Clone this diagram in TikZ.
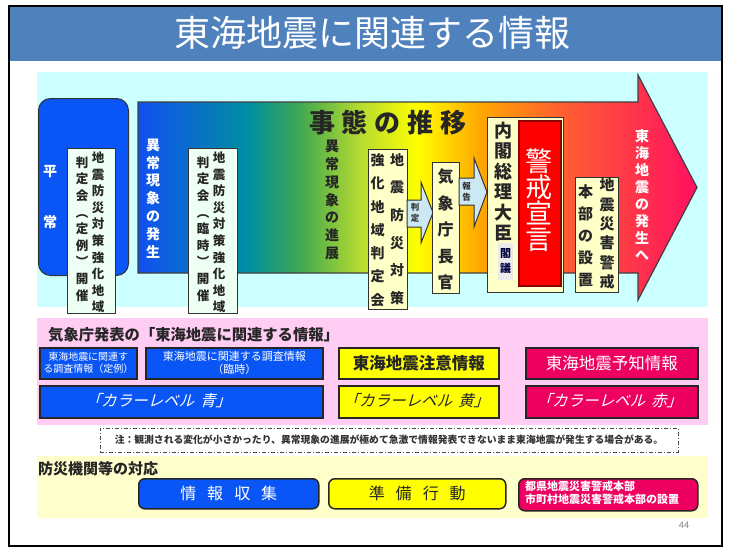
\documentclass[tikz,border=0pt]{standalone}
\usepackage{fontspec}
\setmainfont{Noto Sans CJK JP}
\newfontfamily\numfont{Carlito}
\definecolor{titleblue}{HTML}{4F81BD}
\definecolor{bgcyan}{HTML}{CCFFFF}
\definecolor{bgpink}{HTML}{FFCCF4}
\definecolor{bgyel}{HTML}{FFFFCC}
\definecolor{boxblue}{HTML}{0A55F5}
\definecolor{boxred}{HTML}{EE0060}
\definecolor{boxyel}{HTML}{FFFF00}
\definecolor{paleyel}{HTML}{FFFFC8}
\definecolor{palecy}{HTML}{EEFFF4}
\definecolor{arrowblue}{HTML}{CCE8F4}
\definecolor{gA}{HTML}{1050F0}
\definecolor{gB}{HTML}{0090A0}
\definecolor{gC}{HTML}{40A850}
\definecolor{gD}{HTML}{B8DC30}
\definecolor{gE}{HTML}{FFFF00}
\definecolor{gF}{HTML}{FFA800}
\definecolor{gG}{HTML}{FF6030}
\definecolor{gH}{HTML}{FF1060}
\pgfdeclarehorizontalshading{arrowgrad}{100bp}{color(0bp)=(gA); color(25bp)=(gA); color(35bp)=(gB); color(39.5bp)=(gC); color(45bp)=(gD); color(50bp)=(gE); color(55.5bp)=(gF); color(62.7bp)=(gG); color(75bp)=(gH); color(100bp)=(gH)}
\tikzset{
  rect/.style={draw=black!80, line width=1pt, inner sep=0pt, anchor=north west},
  sq/.style={draw=black!85, line width=1.5pt, inner sep=0pt, anchor=north west},
  rsq/.style={sq, rounded corners=6pt},
  vt/.style={font=\bfseries\fontsize{12.5}{16.6}\selectfont, align=center, inner sep=0pt, text=black!85},
  blockarrow/.style={fill=arrowblue, draw=black!80, line width=1pt},
  smalltxt/.style={font=\bfseries\fontsize{8.5}{11}\selectfont, align=center, inner sep=0pt, text=black!80},
  slanted/.style={inner sep=0pt, font=\fontsize{15.5}{15.5}\selectfont, cm={1,0,0.28,1,(0,0)}, transform shape}
}
\begin{document}
\begin{tikzpicture}[x=1pt,y=-1pt]
\useasboundingbox (0,0) rectangle (731,549);
\fill[white] (0,0) rectangle (731,549);
\fill[titleblue] (9,6) rectangle (722,61);
\draw[line width=2pt] (9,6) rectangle (722,546);
\node[font=\fontsize{36}{36}\selectfont, text=white, inner sep=0pt] (title) at (372,33) {東海地震に関連する情報};
% panels
\fill[bgcyan] (37,72) rectangle (708,307);
\fill[bgpink] (37,318) rectangle (708,425);
\fill[bgyel] (37,456) rectangle (708,518);
% big arrow
\shadedraw[shading=arrowgrad, draw=black!75, line width=1.2pt]
  (138,102) -- (638,102) -- (638,75) -- (697,187.5) -- (638,300) -- (638,273) -- (138,273) -- cycle;
% heijo
\node[rect, fill=boxblue, rounded corners=12pt, minimum width=90pt, minimum height=177pt] (heijo) at (38,98) {};
\node[vt, text=white, font=\bfseries\fontsize{14}{14}\selectfont] (hei) at (50,172) {平};
\node[vt, text=white, font=\bfseries\fontsize{14}{14}\selectfont] (jo) at (50,222) {常};
% box A
\node[rect, fill=palecy, minimum width=48pt, minimum height=165pt] (boxA) at (67,148) {};
\node[vt] (A1) at (98,232.5) {地\\震\\防\\災\\対\\策\\強\\化\\地\\域};
\node[vt] (A2) at (82,229) {判\\定\\会\\︵\\定\\例\\︶\\開\\催};
% ijo hassei
\node[vt, text=white, font=\bfseries\fontsize{14}{17.8}\selectfont] (ijo1) at (153,198.5) {異\\常\\現\\象\\の\\発\\生};
% box B
\node[rect, fill=palecy, minimum width=49pt, minimum height=165pt] (boxB) at (188,148) {};
\node[vt] (B1) at (219,232.5) {地\\震\\防\\災\\対\\策\\強\\化\\地\\域};
\node[vt] (B2) at (203,229) {判\\定\\会\\︵\\臨\\時\\︶\\開\\催};
% jitai no suii
\node[font=\bfseries\fontsize{26}{26}\selectfont, text=black!85, inner sep=0pt] (suii) at (388,123) {事\hspace{7pt}態\hspace{7pt}の\hspace{7pt}推\hspace{7pt}移};
\node[vt, font=\bfseries\fontsize{14}{17.7}\selectfont] (ijo2) at (332,200) {異\\常\\現\\象\\の\\進\\展};
% box C
\node[rect, fill=paleyel, minimum width=39pt, minimum height=160pt] (boxC) at (368,149) {};
\node[vt, font=\bfseries\fontsize{14}{27.6}\selectfont] (C1) at (397,229) {地\\震\\防\\災\\対\\策};
\node[vt, font=\bfseries\fontsize{14}{23.3}\selectfont] (C2) at (377.5,230) {強\\化\\地\\域\\判\\定\\会};
% arrow hantei
\draw[blockarrow] (407,200) -- (421,200) -- (421,182) -- (433,212.5) -- (421,243) -- (421,227) -- (407,227) -- cycle;
\node[smalltxt] (hantei) at (415,213) {判\\定};
% box kishocho
\node[rect, fill=paleyel, minimum width=27pt, minimum height=131pt] (boxK) at (432,162) {};
\node[vt, font=\bfseries\fontsize{16}{26.5}\selectfont] (K1) at (445.5,229.5) {気\\象\\庁\\長\\官};
% arrow hokoku
\draw[blockarrow] (459,178) -- (474,178) -- (474,158) -- (487,192) -- (474,227) -- (474,205) -- (459,205) -- cycle;
\node[smalltxt] (hokoku) at (466.5,191.5) {報\\告};
% box D
\node[rect, fill=paleyel, minimum width=76pt, minimum height=175pt] (boxD) at (487,117) {};
\node[vt, font=\bfseries\fontsize{18}{20.5}\selectfont] (D1) at (503,181.5) {内\\閣\\総\\理\\大\\臣};
\node[inner sep=0pt, anchor=north west, fill=black!8, minimum width=15pt, minimum height=37pt] (kakugi) at (498,243) {};
\node[vt, font=\bfseries\fontsize{11}{15}\selectfont, text=black!75!blue] (kakugiT) at (505.5,261.5) {閣\\議};
\node[rect, fill=red, draw=red!55!black, line width=2pt, minimum width=42pt, minimum height=165pt] (keikai) at (518,120) {};
\node[vt, text=white, font=\fontsize{27}{26}\selectfont] (keikaiT) at (539,200) {警\\戒\\宣\\言};
% box E
\node[rect, fill=paleyel, minimum width=43pt, minimum height=115pt] (boxE) at (575,177) {};
\node[vt, font=\bfseries\fontsize{15}{19.4}\selectfont] (E1) at (607,233.5) {地\\震\\災\\害\\警\\戒};
\node[vt, font=\bfseries\fontsize{15}{22}\selectfont] (E2) at (585.5,236) {本\\部\\の\\設\\置};
\node[vt, text=white, font=\bfseries\fontsize{14}{17}\selectfont] (hassei) at (642,195) {東\\海\\地\\震\\の\\発\\生\\へ};
% pink section
\node[anchor=west, inner sep=0pt, font=\bfseries\fontsize{15.3}{15.3}\selectfont, text=black!85] (jmatitle) at (48,335) {気象庁発表の「東海地震に関連する情報」};
\node[sq, fill=boxblue, minimum width=97pt, minimum height=31pt] (b1) at (39,347) {};
\node[text=white, font=\fontsize{10}{12}\selectfont, align=center, inner sep=0pt] at (b1.center) {東海地震に関連す\\る調査情報（定例）};
\node[sq, fill=boxblue, minimum width=177pt, minimum height=31pt] (b2) at (145,347) {};
\node[text=white, font=\fontsize{11}{13}\selectfont, align=center, inner sep=0pt] at (b2.center) {東海地震に関連する調査情報\\（臨時）};
\node[sq, fill=boxyel, minimum width=160pt, minimum height=31pt] (b3) at (338,347) {};
\node[text=black!85, font=\bfseries\fontsize{16.5}{16.5}\selectfont, inner sep=0pt] at (b3.center) {東海地震注意情報};
\node[sq, fill=boxred, minimum width=172pt, minimum height=31pt] (b4) at (525,347) {};
\node[text=white, font=\fontsize{16.5}{16.5}\selectfont, inner sep=0pt] at (b4.center) {東海地震予知情報};
\node[sq, fill=boxblue, minimum width=283pt, minimum height=32pt] (c1) at (39,385) {};
\node[sq, fill=boxyel, minimum width=160pt, minimum height=32pt] (c2) at (338,385) {};
\node[sq, fill=boxred, minimum width=172pt, minimum height=32pt] (c3) at (525,385) {};
\node[slanted, text=white] (c1t) at (160,401) {「カラーレベル\hspace{6pt}青」};
\node[slanted, text=black!85] (c2t) at (418,401) {「カラーレベル\hspace{6pt}黄」};
\node[slanted, text=white] (c3t) at (611,401) {「カラーレベル\hspace{6pt}赤」};
% note
\node[draw=black!70, line width=1pt, dash pattern=on 4pt off 2pt on 1pt off 2pt, minimum width=578pt, minimum height=24pt, inner sep=0pt, font=\bfseries\fontsize{9.8}{9.8}\selectfont, text=black!80] (note) at (389,440) {注：観測される変化が小さかったり、異常現象の進展が極めて急激で情報発表できないまま東海地震が発生する場合がある。};
% bottom
\node[anchor=west, inner sep=0pt, font=\bfseries\fontsize{15}{15}\selectfont, text=black!85] (bosai) at (38,469) {防災機関等の対応};
\node[rsq, fill=boxblue, minimum width=180pt, minimum height=30pt] (d1) at (138,478) {};
\node[text=white, font=\fontsize{16}{16}\selectfont, inner sep=0pt] at (d1.center) {情\hspace{11pt}報\hspace{11pt}収\hspace{11pt}集};
\node[rsq, fill=boxyel, minimum width=177pt, minimum height=30pt] (d2) at (328,478) {};
\node[text=black!85, font=\fontsize{16}{16}\selectfont, inner sep=0pt] at (d2.center) {準\hspace{11pt}備\hspace{11pt}行\hspace{11pt}動};
\node[rsq, fill=boxred, minimum width=179pt, minimum height=32pt] (d3) at (518,478) {};
\node[text=white, font=\bfseries\fontsize{11}{12.5}\selectfont, align=left, inner sep=0pt, anchor=west] at (525,493) {都県地震災害警戒本部\\市町村地震災害警戒本部の設置};
\node[font=\numfont\fontsize{10}{10}\selectfont, text=black!50, inner sep=0pt] (pg) at (684,525) {44};
\end{tikzpicture}
\end{document}
